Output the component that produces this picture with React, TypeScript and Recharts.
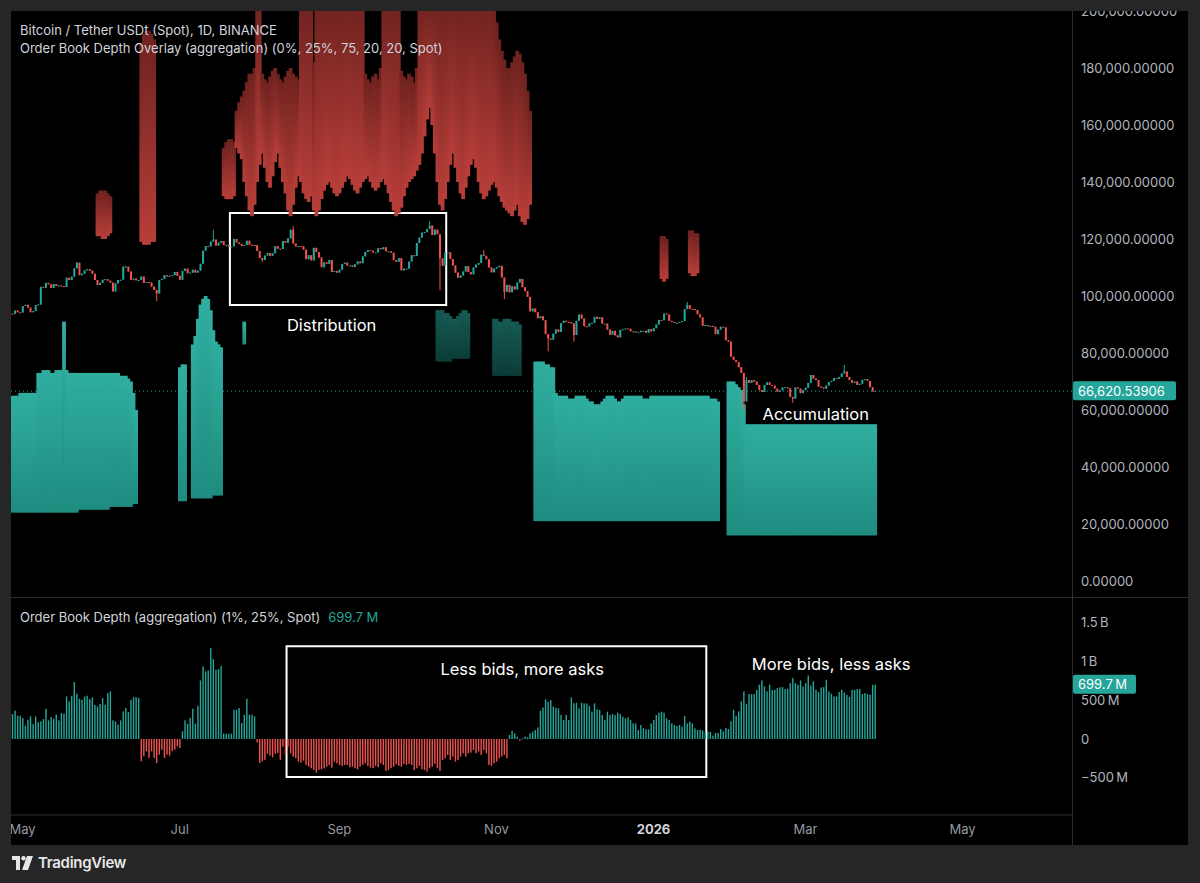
import { ComposedChart, Bar, XAxis, YAxis, ReferenceLine, ReferenceArea, ReferenceDot } from 'recharts';

// day 0 = 1 May 2025, the first candle is 27 Apr 2025
const FIRST_DAY = -4;
const LAST_AXIS_DAY = 407;
const FIRST_OPEN = 93.8;

// daily closes, thousands of USDT
const aprCloses = [93.7, 94.9, 94.3, 94.2];
const mayCloses = [96.5, 96.9, 95.9, 94.3, 94.7, 96.8, 97.0, 103.2, 102.9, 104.6, 104.1, 102.8, 104.2, 103.5, 103.7, 103.5, 103.2, 106.4, 105.6, 106.8, 109.7, 111.7, 107.3, 107.8, 109.0, 109.4, 108.9, 107.8, 105.6, 103.9, 104.6];
const junCloses = [105.7, 105.9, 105.4, 104.7, 101.6, 104.4, 105.6, 105.7, 110.3, 110.3, 108.6, 105.7, 106.1, 105.5, 105.6, 106.8, 104.6, 104.9, 104.7, 103.3, 102.1, 100.9, 105.6, 106.0, 107.3, 106.9, 107.1, 107.3, 108.4, 107.1];
const julCloses = [105.7, 108.8, 109.6, 108.0, 108.2, 109.2, 108.2, 108.9, 111.3, 115.9, 117.5, 117.4, 119.1, 119.8, 117.7, 118.7, 119.3, 117.9, 117.9, 117.3, 117.4, 120.0, 118.8, 118.3, 117.6, 117.9, 119.4, 118.0, 117.9, 117.8, 115.8];
const augCloses = [113.3, 112.6, 114.2, 115.1, 114.1, 115.0, 117.5, 116.6, 116.5, 119.3, 118.7, 120.2, 123.3, 118.4, 117.4, 117.5, 117.4, 116.3, 112.9, 114.3, 112.5, 116.9, 115.4, 113.5, 110.1, 111.8, 111.3, 112.6, 108.4, 108.8, 108.2];
const sepCloses = [109.2, 111.2, 111.7, 110.7, 110.7, 110.2, 111.1, 112.1, 111.5, 113.9, 115.5, 116.1, 115.9, 115.3, 115.3, 116.8, 116.4, 117.1, 115.7, 115.7, 115.2, 112.6, 112.0, 113.3, 109.0, 109.6, 109.6, 112.1, 114.3, 114.0];
const octCloses = [118.6, 120.5, 122.2, 122.4, 123.5, 124.7, 121.4, 123.3, 121.7, 113.2, 110.6, 115.2, 115.3, 113.0, 110.7, 108.2, 106.4, 107.2, 108.6, 110.5, 108.4, 107.6, 110.0, 111.0, 111.6, 114.5, 114.1, 112.9, 110.0, 108.3, 109.6];
const novCloses = [110.1, 110.6, 106.5, 101.5, 103.9, 101.3, 103.4, 102.3, 104.7, 106.0, 103.1, 101.7, 99.7, 94.6, 95.6, 94.3, 92.2, 92.9, 91.5, 86.6, 85.1, 84.7, 86.8, 88.3, 87.4, 90.5, 91.3, 90.9, 90.8, 90.4];
const decCloses = [86.3, 91.3, 93.5, 92.1, 89.4, 89.3, 90.4, 90.6, 92.7, 92.0, 92.5, 90.3, 90.3, 88.2, 86.4, 87.8, 86.2, 85.5, 88.1, 88.3, 88.6, 88.5, 87.6, 87.6, 87.2, 87.3, 87.8, 87.8, 87.1, 88.4, 87.6];
const janCloses = [88.7, 90.0, 91.6, 91.5, 93.8, 93.5, 91.3, 90.9, 90.5, 90.6, 90.9, 91.2, 95.4, 96.8, 95.5, 95.4, 95.1, 93.6, 92.5, 89.5, 89.8, 89.4, 89.5, 89.2, 86.6, 88.2, 89.2, 89.0, 84.5, 84.0, 78.7];
const febCloses = [77.5, 76.8, 75.0, 73.0, 63.0, 70.5, 69.5, 70.5, 70.0, 68.8, 67.0, 66.3, 68.8, 69.7, 68.8, 68.5, 67.5, 66.4, 66.9, 67.9, 68.0, 67.6, 64.6, 64.0, 67.9, 67.5, 65.9, 67.0];
const marCloses = [67.8, 69.5, 72.3, 71.0, 70.5, 68.2, 67.9, 67.5, 68.6, 69.8, 70.2, 71.2, 71.0, 71.6, 72.8, 73.5, 71.6, 70.5, 69.6, 70.0, 68.8, 69.2, 70.6, 70.8, 70.2, 68.0, 66.5, 66.62053906];

// [day, price] of the longer wicks
const wickHighs = [[21, 111.9], [40, 110.6], [74, 123.2], [105, 124.5], [158, 126.2], [179, 116.1], [258, 97.9], [281, 71.6], [319, 75.8]];
const wickLows = [[52, 98.2], [93, 112.0], [162, 102.0], [187, 98.9], [204, 80.6], [214, 84.0], [280, 60.1], [299, 62.5]];

// order book depth, millions
const depthApr = [322, 366, 301, 301];
const depthMay = [271, 172, 249, 292, 194, 292, 215, 228, 258, 391, 241, 284, 262, 314, 241, 335, 327, 550, 486, 559, 735, 585, 520, 507, 550, 559, 516, 538, 439, 421, 452];
const depthJun = [529, 443, 593, 615, 241, 224, 185, 241, 357, 400, 348, 507, 542, 542, 529, -288, -224, -159, -245, -159, -245, -310, -202, -138, -245, -202, -215, -159, -138, -95];
const depthJul = [-116, 99, 241, 198, 271, 391, 198, 430, 757, 937, 873, 886, 1174, 1032, 894, 903, 946, 69, 69, 69, 69, 378, 378, 400, 206, 314, 520, 314, 314, 292, -43];
const depthAug = [-310, -290, -270, -190, -215, -237, -190, -180, -271, -99, -206, -99, -185, -228, -249, -292, -305, -280, -335, -357, -378, -400, -434, -400, -391, -378, -357, -335, -370, -292, -314];
const depthSep = [-335, -348, -335, -335, -365, -357, -378, -391, -357, -335, -314, -348, -370, -378, -348, -365, -314, -335, -413, -400, -378, -357, -327, -348, -357, -322, -335, -322, -335, -400];
const depthOct = [-378, -348, -391, -400, -421, -378, -357, -322, -378, -413, -271, -249, -206, -271, -228, -292, -271, -228, -185, -228, -185, -176, -142, -185, -163, -206, -142, -185, -335, -348, -314];
const depthNov = [-292, -249, -228, -206, -249, 52, 107, 73, 30, -20, 9, 30, 21, 73, 95, 116, 150, 365, 408, 512, 482, 503, 417, 404, 396, 310, 245, 310, 245, 538];
const depthDec = [460, 469, 396, 469, 460, 460, 426, 353, 460, 383, 374, 310, 245, 353, 310, 323, 310, 340, 323, 288, 267, 280, 245, 202, 202, 116, 181, 138, 125, 125, 202];
const depthJan = [245, 310, 340, 353, 340, 267, 245, 202, 181, 168, 181, 159, 297, 202, 224, 202, 138, 116, 120, 110, 80, 100, 90, 43, 77, 77, 129, 99, 142, 129, 228];
const depthFeb = [378, 300, 357, 486, 615, 456, 580, 580, 580, 636, 701, 757, 679, 615, 701, 636, 636, 658, 667, 671, 645, 649, 722, 787, 722, 701, 757, 679];
const depthMar = [722, 821, 692, 744, 636, 606, 667, 671, 765, 615, 585, 550, 550, 606, 636, 602, 572, 542, 636, 636, 645, 645, 580, 593, 580, 572, 701, 699.7];

// depth overlay: ask walls (red) above price, bid walls (teal) below, thousands
const askBands = [
  { start: 29, low: [121, 121, 120, 120, 121, 122], high: [136, 137, 137, 137, 136, 135] },
  { start: 46, low: [119, 118, 118, 118, 119, 119], high: [188, 192, 193, 193, 192, 190] },
  { start: 78, low: [135, 134, 134, 134, 135], high: [152, 154, 155, 155, 154] },
  {
    start: 83,
    low: [152, 150, 148, 140, 135, 130, 128, 132, 140, 146, 150, 145, 140, 138, 142, 147, 150, 145, 140, 136,
      130, 128, 132, 138, 142, 140, 136, 134, 133, 135, 130, 128, 130, 134, 137, 139, 140, 138, 136, 135,
      136, 138, 140, 142, 141, 139, 137, 136, 138, 140, 141, 142, 140, 138, 137, 138, 140, 141, 139, 136,
      133, 130, 128, 129, 131, 135, 138, 140, 141, 142, 144, 146, 150, 156, 162, 166, 160, 150, 140, 132,
      130, 134, 140, 146, 150, 145, 140, 136, 134, 138, 142, 146, 148, 145, 140, 136, 134, 135, 137, 139,
      140, 138, 135, 133, 131, 130, 129, 128, 130, 132, 128, 126, 125, 127, 132],
    high: [165, 168, 170, 172, 175, 178, 178, 180, 204, 204,
      178, 176, 175, 177, 179, 180, 178, 176, 175, 177, 179, 180, 178, 177, 176,
      204, 204, 204, 204, 204, 182,
      204, 204, 204, 204, 204, 204, 204, 204, 204, 204, 204, 204, 204, 204, 204, 204, 204, 204, 204,
      178, 176, 175, 177, 178, 176, 180,
      204, 204, 204, 204, 204, 204, 204,
      179, 177, 176, 178, 177, 175, 180,
      204, 204, 204, 204, 204, 204, 204, 204, 204, 204, 204, 204, 204, 204, 204, 204, 204, 204, 204, 204,
      204, 204, 204, 204, 204, 204, 204, 204, 204,
      200, 196, 190, 186, 183, 180, 180, 182, 184, 186, 185, 182, 178, 172, 165],
  },
  { start: 248, low: [106, 105, 106], high: [121, 121, 120] },
  { start: 259, low: [108, 107, 107, 108], high: [123, 123, 122, 122] },
];

const bidBands = [
  {
    start: -4,
    low: [24, 24, 24, 24, 24, 24, 24, 24, 24, 24, 24, 24, 24, 24, 24, 24, 24, 24, 24, 24, 24, 24, 24, 24, 24,
      24, 25, 25, 25, 25, 25, 25, 25, 25, 25, 25, 25, 25, 26, 26, 26, 26, 26, 26, 26, 26, 26, 27, 27],
    high: [65, 65, 65, 66, 66, 66, 66, 66, 66, 66, 73, 73, 74, 74, 74, 73, 73, 74, 74, 74, 91, 74, 73, 73, 73,
      73, 73, 73, 73, 73, 73, 73, 73, 73, 73, 73, 73, 73, 73, 73, 73, 73, 72, 72, 72, 71, 70, 66, 60],
  },
  { start: 61, low: [28, 28, 28], high: [75, 76, 76] },
  { start: 66, low: [29, 29, 29, 29, 29, 29, 29, 29, 30, 30, 30, 30], high: [83, 86, 92, 97, 99, 100, 99, 95, 88, 84, 83, 82] },
  { start: 86, low: [83], high: [91] },
  { start: 161, low: [77, 77, 77, 77, 77, 77, 78, 78, 78, 78, 78, 78, 78], high: [95, 95, 95, 94, 94, 93, 92, 92, 93, 94, 95, 95, 94] },
  { start: 183, low: [72, 72, 72, 72, 72, 72, 72, 72, 72, 72, 72], high: [92, 92, 91, 91, 92, 92, 92, 91, 91, 91, 90] },
  {
    start: 199,
    low: [21, 21, 21, 21, 21, 21, 21, 21, 21, 21, 21, 21, 21, 21, 21, 21, 21, 21, 21, 21, 21, 21, 21, 21,
      21, 21, 21, 21, 21, 21, 21, 21, 21, 21, 21, 21, 21, 21, 21, 21, 21, 21, 21, 21, 21, 21, 21, 21,
      21, 21, 21, 21, 21, 21, 21, 21, 21, 21, 21, 21, 21, 21, 21, 21, 21, 21, 21, 21, 21, 21, 21, 21],
    high: [77, 77, 77, 77, 76, 76, 75, 75, 66, 65, 65, 65, 65, 64, 64, 64, 65, 65, 65, 65, 64, 63, 63, 62,
      62, 62, 63, 64, 65, 65, 65, 64, 63, 63, 64, 65, 65, 65, 65, 65, 65, 65, 64, 64, 64, 65, 65, 65,
      65, 65, 65, 65, 65, 65, 65, 65, 65, 65, 65, 65, 65, 65, 65, 65, 65, 65, 65, 65, 64, 64, 64, 63],
  },
  {
    start: 274,
    low: [16, 16, 16, 16, 16, 16, 16, 16, 16, 16, 16, 16, 16, 16, 16, 16, 16, 16, 16, 16, 16, 16, 16, 16, 16, 16, 16, 16, 16,
      16, 16, 16, 16, 16, 16, 16, 16, 16, 16, 16, 16, 16, 16, 16, 16, 16, 16, 16, 16, 16, 16, 16, 16, 16, 16, 16, 16, 16],
    high: [70, 70, 70, 69, 68, 67, 62, 55, 55, 55, 55, 55, 55, 55, 55, 55, 55, 55, 55, 55, 55, 55, 55, 55, 55, 55, 55, 55, 55,
      55, 55, 55, 55, 55, 55, 55, 55, 55, 55, 55, 55, 55, 55, 55, 55, 55, 55, 55, 55, 55, 55, 55, 55, 55, 55, 55, 55, 55],
  },
];
// which bid walls are drawn in the darker shade
const darkBidBands = [4, 5];

const monthTicks = [0, 61, 123, 184, 245, 304, 365];
const monthLabels = ['May', 'Jul', 'Sep', 'Nov', '2026', 'Mar', 'May'];
const priceTicks = [0, 20000, 40000, 60000, 80000, 100000, 120000, 140000, 160000, 180000, 200000];
const depthTicks = [-500e6, 0, 500e6, 1000e6, 1500e6];
const depthTickLabels = ['\u2212500\u2009M', '0', '500\u2009M', '1\u2009B', '1.5\u2009B'];

const TEAL = '#26a69a';
const RED = '#ef5350';
const AXIS_TEXT = '#b2b5be';
const FONT = 'Inter, Roboto, sans-serif';

const closes = [...aprCloses, ...mayCloses, ...junCloses, ...julCloses, ...augCloses, ...sepCloses,
  ...octCloses, ...novCloses, ...decCloses, ...janCloses, ...febCloses, ...marCloses];
const depth = [...depthApr, ...depthMay, ...depthJun, ...depthJul, ...depthAug, ...depthSep,
  ...depthOct, ...depthNov, ...depthDec, ...depthJan, ...depthFeb, ...depthMar];

const rows: any[] = [];
for (let d = FIRST_DAY; d <= LAST_AXIS_DAY; d++) {
  const i = d - FIRST_DAY;
  const row: any = { d };
  if (i < closes.length) {
    const c = closes[i] * 1000;
    const o = (i === 0 ? FIRST_OPEN : closes[i - 1]) * 1000;
    let h = Math.max(o, c);
    let l = Math.min(o, c);
    wickHighs.forEach(([wd, v]) => { if (wd === d) h = Math.max(h, v * 1000); });
    wickLows.forEach(([wd, v]) => { if (wd === d) l = Math.min(l, v * 1000); });
    Object.assign(row, { o, c, h, l, candle: [l, h], depth: depth[i] * 1e6 });
  }
  rows.push(row);
}
askBands.forEach((b) => b.low.forEach((lo, k) => { rows[b.start - FIRST_DAY + k].ask = [lo * 1000, b.high[k] * 1000]; }));
bidBands.forEach((b, n) => b.low.forEach((lo, k) => {
  const row = rows[b.start - FIRST_DAY + k];
  row.bid = [lo * 1000, b.high[k] * 1000];
  row.bidDark = darkBidBands.includes(n);
}));

const lastClose = closes[closes.length - 1] * 1000;
const lastDepth = depth[depth.length - 1] * 1e6;

const Candle = (props: any) => {
  const { x, y, width, height, payload } = props;
  if (!payload || !payload.candle || !isFinite(y)) return null;
  const { o, c, h, l } = payload;
  const color = c >= o ? TEAL : RED;
  const ratio = h === l ? 0 : height / (h - l);
  const bodyTop = y + (h - Math.max(o, c)) * ratio;
  const bodyH = Math.max(1, Math.abs(o - c) * ratio);
  const cx = x + width / 2;
  return (
    <g>
      <line x1={cx} x2={cx} y1={y} y2={y + height} stroke={color} strokeWidth={1} />
      <rect x={cx - 1} y={bodyTop} width={2} height={bodyH} fill={color} />
    </g>
  );
};

const AskWall = (props: any) => {
  const { x, y, width, height } = props;
  if (!isFinite(y) || !height) return null;
  return <rect x={x - 0.4} y={y} width={width + 0.8} height={height} fill="url(#askFill)" />;
};

const BidWall = (props: any) => {
  const { x, y, width, height, payload } = props;
  if (!isFinite(y) || !height) return null;
  return <rect x={x - 0.4} y={y} width={width + 0.8} height={height} fill={payload && payload.bidDark ? 'url(#bidDark)' : 'url(#bidFill)'} />;
};

const DepthBar = (props: any) => {
  const { x, y, width, height, payload } = props;
  if (!payload || payload.depth == null || !isFinite(y)) return null;
  const top = Math.min(y, y + height);
  const cx = x + width / 2;
  return <rect x={cx - 0.7} y={top} width={1.4} height={Math.max(1, Math.abs(height))} fill={payload.depth >= 0 ? TEAL : RED} />;
};

const fmtPrice = (v: number) => v.toLocaleString('en-US', { minimumFractionDigits: 5, maximumFractionDigits: 5 });

const PriceTick = ({ x, y, payload }: any) => (
  <text x={x} y={y} dy={4.5} fill={AXIS_TEXT} fontSize={13} fontFamily={FONT}>{fmtPrice(payload.value)}</text>
);

const DepthTick = ({ x, y, payload }: any) => (
  <text x={x} y={y} dy={4.5} fill={AXIS_TEXT} fontSize={13} fontFamily={FONT}>
    {depthTickLabels[depthTicks.indexOf(payload.value)]}
  </text>
);

const MonthTick = ({ x, y, payload }: any) => {
  const label = monthLabels[monthTicks.indexOf(payload.value)];
  const bold = label === '2026';
  return (
    <text x={x} y={y + 19} textAnchor="middle" fill={bold ? '#d1d4dc' : '#9598a1'} fontWeight={bold ? 700 : 400} fontSize={13} fontFamily={FONT}>
      {label}
    </text>
  );
};

const axisBadge = (text: string, w: number) => (props: any) => {
  const { viewBox } = props;
  const x = viewBox.x + viewBox.width;
  const y = viewBox.y;
  return (
    <g>
      <rect x={x + 1} y={y - 10} width={w} height={19} rx={2} fill={TEAL} />
      <text x={x + 6} y={y + 4.5} fill="#ffffff" fontSize={13} fontFamily={FONT}>{text}</text>
    </g>
  );
};

const note = (value: string) => ({ value, position: 'center' as const, fill: '#ffffff', fontSize: 16.5, fontFamily: FONT });

const PLOT_W = 1061;
const AXIS_W = 116;

export default function App() {
  return (
    <div style={{ position: 'fixed', left: 0, top: 0, width: 1200, height: 883, background: '#262626', fontFamily: FONT }}>
      <div style={{ position: 'absolute', left: 11, top: 11, width: 1177, height: 834, background: '#000' }} />

      <div style={{ position: 'absolute', left: 11, top: 11 }}>
        <ComposedChart width={PLOT_W + AXIS_W} height={586} data={rows} margin={{ top: 0, right: 0, bottom: 0, left: 0 }} barCategoryGap={0} barGap={0}>
          <defs>
            <linearGradient id="askFill" x1="0" y1="0" x2="0" y2="1">
              <stop offset="0%" stopColor="#6e221f" />
              <stop offset="100%" stopColor="#b83e39" />
            </linearGradient>
            <linearGradient id="bidFill" x1="0" y1="0" x2="0" y2="1">
              <stop offset="0%" stopColor="#2fae9f" />
              <stop offset="100%" stopColor="#1f8c80" />
            </linearGradient>
            <linearGradient id="bidDark" x1="0" y1="0" x2="0" y2="1">
              <stop offset="0%" stopColor="#155a53" />
              <stop offset="100%" stopColor="#0d3c37" />
            </linearGradient>
          </defs>
          <XAxis xAxisId="c" dataKey="d" type="category" hide />
          <XAxis xAxisId="a" dataKey="d" type="category" hide />
          <XAxis xAxisId="b" dataKey="d" type="category" hide />
          <YAxis orientation="right" width={AXIS_W} domain={[-5614, 200000]} allowDataOverflow ticks={priceTicks} interval={0}
            tick={PriceTick} tickSize={0} tickMargin={9} axisLine={false} tickLine={false} />
          <Bar xAxisId="a" dataKey="ask" shape={AskWall} isAnimationActive={false} />
          <Bar xAxisId="b" dataKey="bid" shape={BidWall} isAnimationActive={false} />
          <ReferenceLine xAxisId="c" y={lastClose} stroke={TEAL} strokeDasharray="1 3" label={axisBadge('66,620.53906', 103)} />
          <Bar xAxisId="c" dataKey="candle" shape={Candle} isAnimationActive={false} />
          <ReferenceArea xAxisId="c" x1={81} x2={164} y1={96850} y2={129100} fill="none" fillOpacity={0} stroke="#ffffff" strokeWidth={2} />
          <ReferenceDot xAxisId="c" x={120} y={89800} r={0} fill="none" stroke="none" label={note('Distribution')} />
          <ReferenceDot xAxisId="c" x={308} y={58600} r={0} fill="none" stroke="none" label={note('Accumulation')} />
        </ComposedChart>
      </div>

      <div style={{ position: 'absolute', left: 11, top: 598 }}>
        <ComposedChart width={PLOT_W + AXIS_W} height={247} data={rows} margin={{ top: 0, right: 0, bottom: 0, left: 0 }} barCategoryGap={0} barGap={0}>
          <XAxis dataKey="d" type="category" ticks={monthTicks} interval={0} tick={MonthTick} height={30}
            tickSize={0} tickMargin={0} axisLine={{ stroke: '#2e2e2e' }} tickLine={false} />
          <YAxis orientation="right" width={AXIS_W} domain={[-982e6, 1822e6]} allowDataOverflow ticks={depthTicks} interval={0}
            tick={DepthTick} tickSize={0} tickMargin={9} axisLine={false} tickLine={false} />
          <Bar dataKey="depth" shape={DepthBar} isAnimationActive={false} />
          <ReferenceLine y={lastDepth} stroke="none" label={axisBadge('699.7\u2009M', 63)} />
          <ReferenceArea x1={103} x2={265} y1={-490e6} y2={1200e6} fill="none" fillOpacity={0} stroke="#ffffff" strokeWidth={2} />
          <ReferenceDot x={194} y={903e6} r={0} fill="none" stroke="none" label={note('Less bids, more asks')} />
          <ReferenceDot x={314} y={967e6} r={0} fill="none" stroke="none" label={note('More bids, less asks')} />
        </ComposedChart>
      </div>

      {/* panel frame lines */}
      <div style={{ position: 'absolute', left: 11, top: 597, width: 1177, height: 1, background: '#2e2e2e' }} />
      <div style={{ position: 'absolute', left: 1072, top: 11, width: 1, height: 834, background: '#2e2e2e' }} />

      <div style={{ position: 'absolute', left: 20, top: 21, color: '#d1d4dc', fontSize: 13, lineHeight: '18px' }}>
        <div>Bitcoin / Tether USDt (Spot), 1D, BINANCE</div>
        <div>Order Book Depth Overlay (aggregation) (0%, 25%, 75, 20, 20, Spot)</div>
      </div>
      <div style={{ position: 'absolute', left: 20, top: 608, color: '#d1d4dc', fontSize: 13, lineHeight: '18px' }}>
        Order Book Depth (aggregation) (1%, 25%, Spot)<span style={{ color: TEAL, marginLeft: 8 }}>699.7 M</span>
      </div>

      <div style={{ position: 'absolute', left: 12, top: 853, display: 'flex', alignItems: 'center', color: '#e6e6e6' }}>
        <svg width={22} height={14} viewBox="0 0 22 14">
          <path d="M0 0 H8 V14 H4 V4 H0 Z" fill="#e6e6e6" />
          <circle cx={11.5} cy={2.2} r={2.2} fill="#e6e6e6" />
          <path d="M15 0 H21 L16 14 H10 Z" fill="#e6e6e6" />
        </svg>
        <span style={{ marginLeft: 4, fontSize: 15, fontWeight: 600, letterSpacing: -0.3 }}>TradingView</span>
      </div>
    </div>
  );
}
